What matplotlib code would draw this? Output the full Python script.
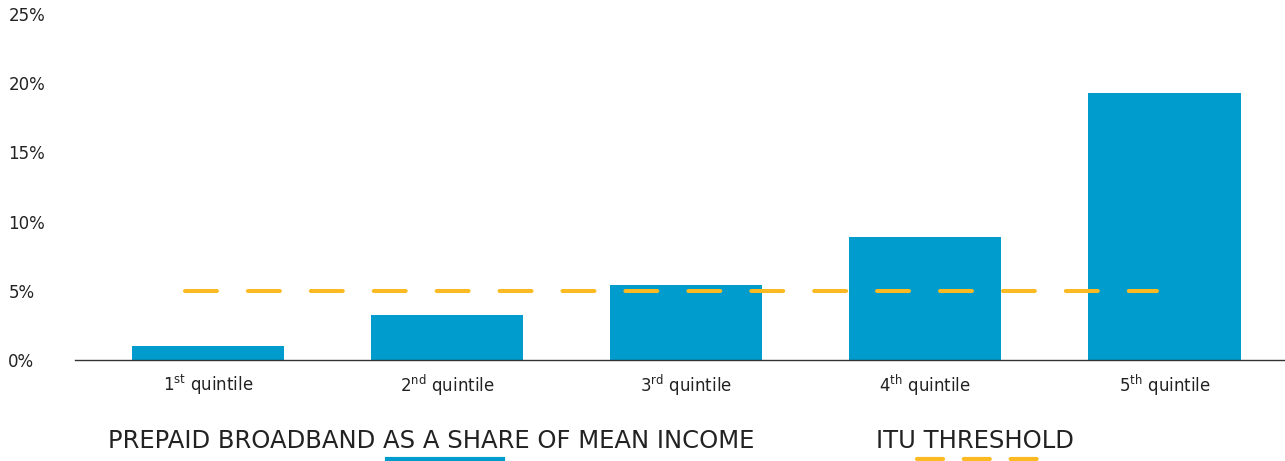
import numpy as np
import matplotlib.pyplot as plt
from matplotlib.lines import Line2D

# data
quintiles = ["1$^{\\rm st}$ quintile", "2$^{\\rm nd}$ quintile", "3$^{\\rm rd}$ quintile",
             "4$^{\\rm th}$ quintile", "5$^{\\rm th}$ quintile"]
share_of_income = [1.0, 3.25, 5.4, 8.9, 19.3]
itu_threshold = 5
y_ticks = [0, 5, 10, 15, 20, 25]

BLUE = "#009ccd"
YELLOW = "#fbba22"
TEXT = "#222222"

plt.rcParams["font.family"] = ["DejaVu Sans"]
plt.rcParams["mathtext.fontset"] = "custom"
plt.rcParams["mathtext.rm"] = "DejaVu Sans"
plt.rcParams["lines.scale_dashes"] = False

fig = plt.figure(figsize=(12.85, 4.61), dpi=100)
ax = fig.add_axes([75 / 1285, 101 / 461, 1210 / 1285, 346 / 461])

x = np.arange(len(quintiles))
ax.bar(x, share_of_income, width=0.636, color=BLUE, zorder=2)
ax.hlines(itu_threshold, -0.096, 3.97, colors=YELLOW, linewidth=2.9,
          linestyles=(0, (23, 22.3)), capstyle="round", zorder=3)

ax.set_xlim(-0.556, 4.504)
ax.set_ylim(0, 25)
ax.set_xticks(x)
ax.set_xticklabels(quintiles, fontsize=12, color=TEXT)
ax.set_yticks(y_ticks)
ax.set_yticklabels([f"{v}%" for v in y_ticks], fontsize=12, color=TEXT, ha="left")
ax.tick_params(axis="both", length=0)
ax.tick_params(axis="x", pad=9)
ax.tick_params(axis="y", pad=48)

for side in ["top", "right", "left"]:
    ax.spines[side].set_visible(False)
ax.spines["bottom"].set_color("#333333")
ax.spines["bottom"].set_linewidth(1)
ax.spines["bottom"].set_zorder(4)

# legend
fig.text(108 / 1285, 1 - 441 / 461, "PREPAID BROADBAND AS A SHARE OF MEAN INCOME",
         fontsize=17.5, color=TEXT, va="center", ha="left")
fig.text(876 / 1285, 1 - 441 / 461, "ITU THRESHOLD",
         fontsize=17.5, color=TEXT, va="center", ha="left")
fig.add_artist(Line2D([387 / 1285, 503 / 1285], [0.004, 0.004], color=BLUE,
                      linewidth=3, transform=fig.transFigure))
fig.add_artist(Line2D([917 / 1285, 1038 / 1285], [0.004, 0.004], color=YELLOW,
                      linewidth=3, linestyle=(0, (18.7, 15)),
                      dash_capstyle="round", transform=fig.transFigure))

fig.savefig("out.png", dpi=100)
